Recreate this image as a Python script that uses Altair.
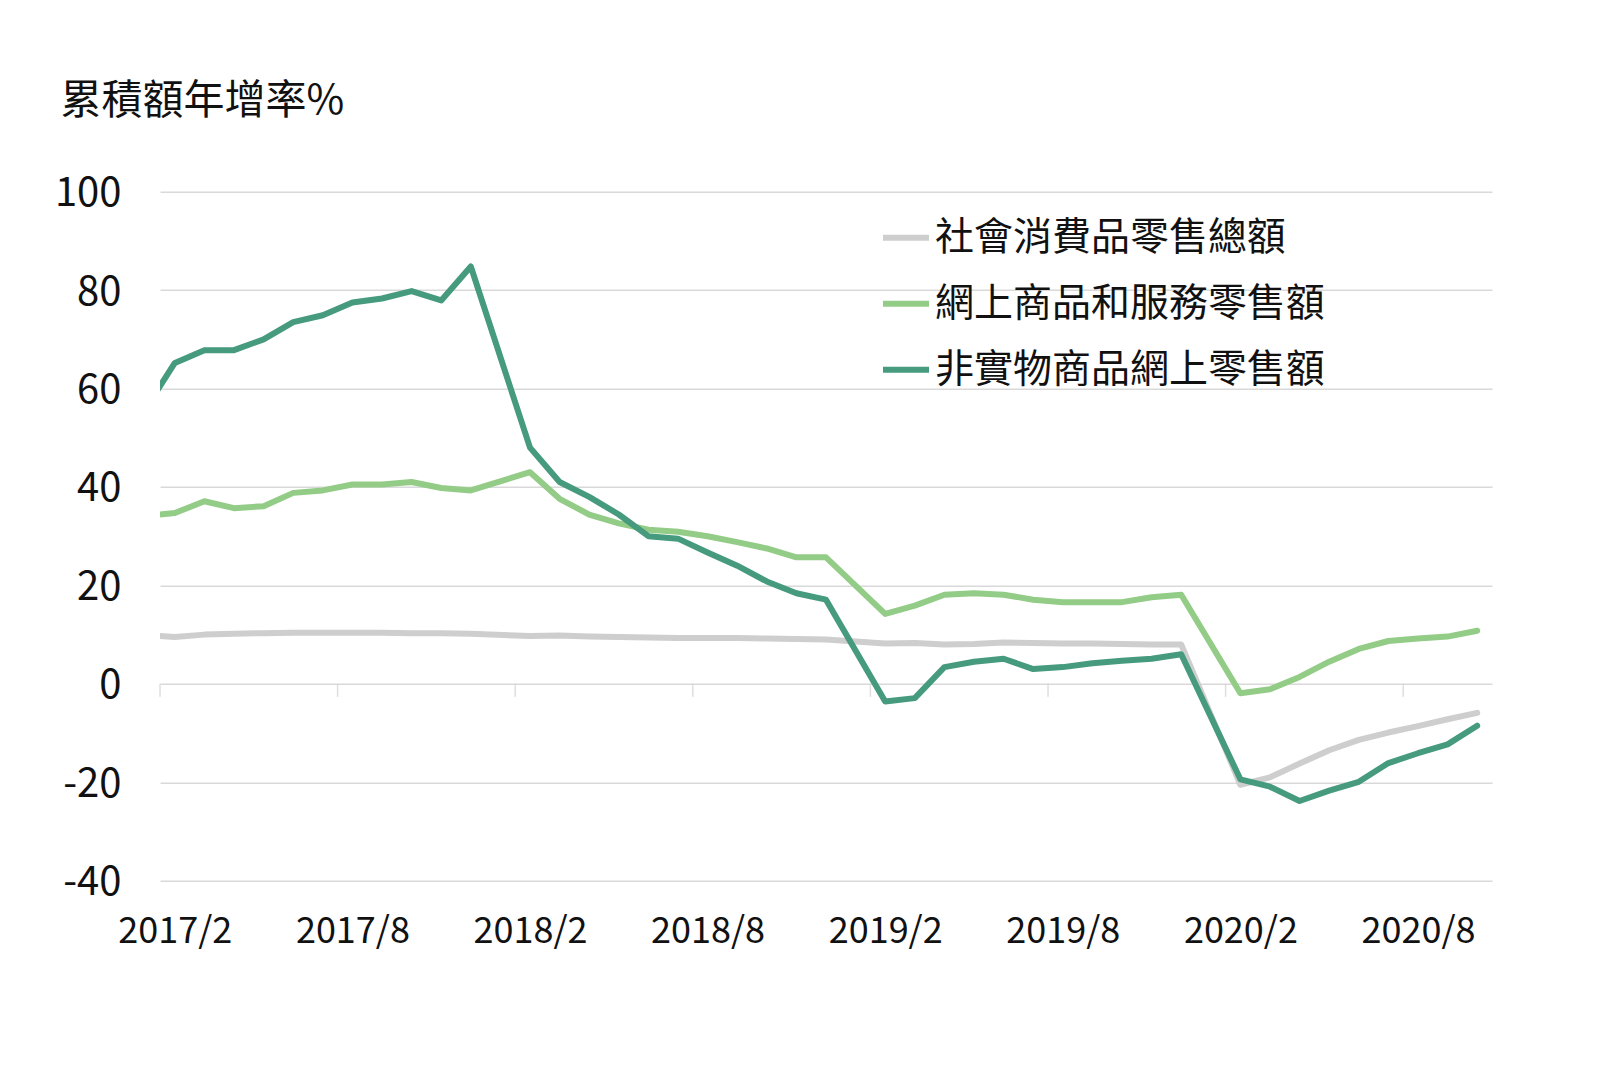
import json
import altair as alt
import pandas as pd

FONT = "Noto Sans CJK TC"
TEXT = "#111111"

# ---- data ----
months = [
    "2016/12",
    "2017/2", "2017/3", "2017/4", "2017/5", "2017/6", "2017/7", "2017/8", "2017/9", "2017/10", "2017/11", "2017/12",
    "2018/2", "2018/3", "2018/4", "2018/5", "2018/6", "2018/7", "2018/8", "2018/9", "2018/10", "2018/11", "2018/12",
    "2019/2", "2019/3", "2019/4", "2019/5", "2019/6", "2019/7", "2019/8", "2019/9", "2019/10", "2019/11", "2019/12",
    "2020/2", "2020/3", "2020/4", "2020/5", "2020/6", "2020/7", "2020/8", "2020/9", "2020/10",
]

total_retail = [
    10.4,
    9.5, 10.0, 10.2, 10.3, 10.4, 10.4, 10.4, 10.4, 10.3, 10.3, 10.2,
    9.7, 9.8, 9.6, 9.5, 9.4, 9.3, 9.3, 9.3, 9.2, 9.1, 9.0,
    8.2, 8.3, 8.0, 8.1, 8.4, 8.3, 8.2, 8.2, 8.1, 8.0, 8.0,
    -20.5, -19.0, -16.2, -13.5, -11.4, -9.9, -8.6, -7.2, -5.9,
]

online_retail = [
    33.5,
    34.7, 37.1, 35.7, 36.1, 38.8, 39.3, 40.5, 40.5, 41.0, 39.8, 39.3,
    43.0, 37.6, 34.4, 32.6, 31.3, 30.9, 30.0, 28.8, 27.5, 25.7, 25.7,
    14.2, 15.9, 18.1, 18.4, 18.1, 17.1, 16.6, 16.6, 16.6, 17.6, 18.1,
    -1.9, -1.1, 1.4, 4.5, 7.1, 8.7, 9.2, 9.6, 10.8,
]

nonphysical_online = [
    46.4,
    65.2, 67.8, 67.8, 70.0, 73.5, 74.9, 77.5, 78.3, 79.8, 77.9, 84.8,
    48.0, 41.0, 38.0, 34.4, 30.0, 29.5, 26.7, 24.0, 20.8, 18.4, 17.1,
    -3.6, -2.9, 3.4, 4.5, 5.1, 3.0, 3.4, 4.2, 4.7, 5.1, 6.0,
    -19.4, -20.9, -23.8, -21.7, -19.9, -16.1, -14.1, -12.3, -8.5,
]

series_names = ["社會消費品零售總額", "網上商品和服務零售額", "非實物商品網上零售額"]
series_colors = ["#cfcece", "#93cc86", "#469a7e"]

tick_labels = ["2017/2", "2017/8", "2018/2", "2018/8", "2019/2", "2019/8", "2020/2", "2020/8"]
y_ticks = [-40, -20, 0, 20, 40, 60, 80, 100]
title_text = "累積額年增率%"


def month_index(s):
    y, m = s.split("/")
    return (int(y) - 2017) * 12 + int(m) - 2


rows = []
for name, vals in zip(series_names, [total_retail, online_retail, nonphysical_online]):
    for mo, v in zip(months, vals):
        rows.append({"month": mo, "idx": month_index(mo), "series": name, "value": v})
df = pd.DataFrame(rows)

# axis ticks sit on category boundaries (half a month before each label)
tick_df = pd.DataFrame({"idx": [month_index(l) - 0.5 for l in tick_labels], "zero": 0})
tick_vals = list(tick_df["idx"])
label_js = json.dumps(tick_labels, ensure_ascii=False)

x_scale = alt.Scale(domain=[-0.5, 44.5], nice=False, zero=False)
y_scale = alt.Scale(domain=[-40, 100], nice=False, zero=False)

x_axis = alt.Axis(
    values=tick_vals,
    labelExpr=f"{label_js}[round((datum.value + 0.5) / 6)]",
    grid=False, domain=False, ticks=False,
    labelFont=FONT, labelFontSize=36, labelColor=TEXT,
    labelPadding=34, labelOffset=14.8, labelFlush=False, labelBound=False,
    labelOverlap=False, title=None,
)

y_axis = alt.Axis(
    values=y_ticks,
    labelExpr="'' + datum.value",
    grid=True, gridColor="#d9d9d9", gridWidth=1.5,
    domain=False, ticks=False,
    labelFont=FONT, labelFontSize=40, labelColor=TEXT, labelPadding=39,
    labelOffset=2,
    title=title_text, titleFont=FONT, titleFontSize=41, titleFontWeight="normal",
    titleColor=TEXT, titleAngle=0, titleAlign="left", titleBaseline="alphabetic",
    titleX=-100, titleY=-78,
)

color_scale = alt.Scale(domain=series_names, range=series_colors)
legend = alt.Legend(
    orient="none", legendX=720, legendY=20, title=None,
    symbolType="stroke", symbolStrokeWidth=6, symbolSize=2116,
    labelFont=FONT, labelFontSize=39, labelColor=TEXT, labelOffset=3,
    rowPadding=20, padding=0, labelLimit=0,
)

ticks = alt.Chart(tick_df).mark_tick(
    orient="vertical", size=13, thickness=1.5, yOffset=6.5, color="#d0d0d0"
).encode(
    x=alt.X("idx:Q", scale=x_scale, axis=x_axis),
    y=alt.Y("zero:Q", scale=y_scale, axis=y_axis),
)

layers = [ticks]
for i, name in enumerate(series_names):
    layers.append(
        alt.Chart(df).transform_filter(alt.datum.series == name).mark_line(
            strokeWidth=6, strokeJoin="round", strokeCap="round", clip=True
        ).encode(
            x=alt.X("idx:Q", scale=x_scale, axis=x_axis),
            y=alt.Y("value:Q", scale=y_scale, axis=y_axis),
            color=alt.Color("series:N", scale=color_scale, legend=legend if i == 0 else None),
        )
    )

chart = alt.layer(*layers).properties(
    width=1332, height=689,
    autosize=alt.AutoSizeParams(type="none"),
    padding={"left": 152, "top": 183.7, "right": 100, "bottom": 150},
    background="white",
).configure_view(stroke=None)

chart.save("out.html", embed_options={"renderer": "svg", "actions": False})
